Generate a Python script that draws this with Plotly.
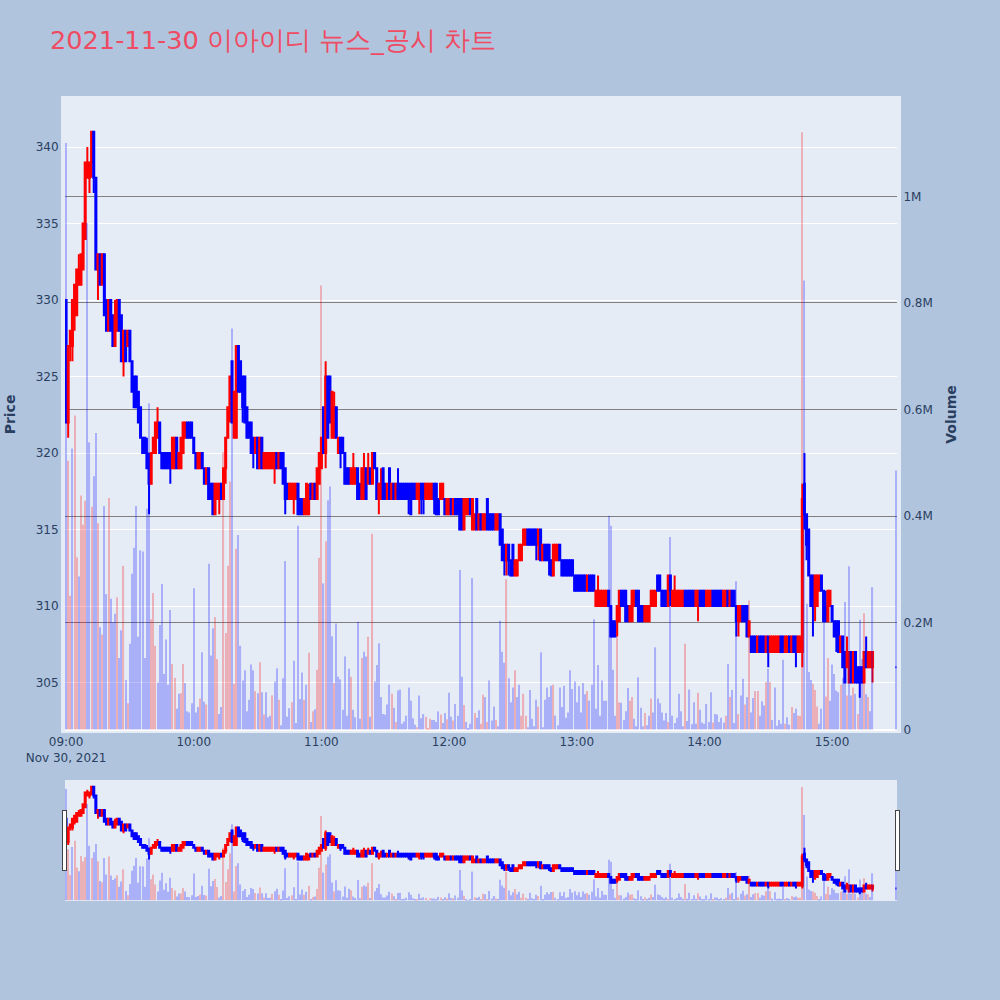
import pandas as pd
import plotly.graph_objects as go

opens = [
330,322,327,327,329,329,331,331,332,334, 338,338,339,341,338,332,333,331,333,330,
328,330,329,327,328,330,329,326,328,327, 328,326,325,325,324,323,321,321,320,319,
318,320,320,321,322,320,320,320,320,320, 319,319,321,319,319,320,321,322,322,322,
321,320,319,319,320,319,318,319,318,318, 316,317,317,318,317,319,321,323,326,321,
321,327,326,325,325,323,322,322,321,320, 321,319,321,319,319,319,319,319,319,320,
319,320,320,319,318,317,317,317,317,318, 317,317,316,316,316,318,317,318,317,318,
319,323,320,325,325,321,321,323,320,321, 321,320,319,319,318,318,318,319,318,317,
317,319,318,319,318,320,319,317,317,319, 318,317,319,317,318,317,318,318,318,318,
318,318,318,318,318,317,317,318,318,317, 317,317,317,318,318,317,317,317,317,316,
316,317,316,317,317,317,317,315,316,316, 317,315,315,317,315,316,315,315,317,316,
316,316,315,315,316,315,314,313,314,313, 314,312,312,313,313,314,314,315,315,315,
315,315,314,315,313,314,314,314,313,312, 313,313,314,313,313,313,313,313,313,312,
312,312,312,312,312,311,312,312,312,310, 310,310,310,310,310,311,310,309,309,309,
309,311,311,311,310,309,309,310,311,311, 310,310,309,309,309,310,310,310,312,312,
311,311,311,310,312,310,310,310,310,310, 310,311,311,311,311,311,310,310,311,311,
311,310,310,310,311,311,311,311,311,310, 310,311,310,311,311,310,309,309,310,310,
310,308,308,308,308,307,308,308,308,307, 308,307,307,307,307,307,308,308,307,307,
308,307,308,308,307,307,307,318,316,315, 312,312,310,310,311,312,311,310,309,310,
310,309,309,309,307,308,307,306,305,307, 305,307,306,306,306,305,307,306,306,306,
306]
highs = [
330,327,328,330,331,332,333,333,335,339, 340,339,341,341,338,333,333,333,333,330,
330,330,329,330,330,330,329,328,328,328, 328,326,325,325,324,323,321,321,321,320,
320,321,322,323,322,320,320,320,320,320, 321,321,321,320,321,322,322,322,322,322,
321,320,320,320,320,319,319,319,318,318, 318,318,318,318,319,321,323,325,326,324,
327,327,326,325,325,323,322,322,321,321, 321,321,321,320,320,320,320,320,320,320,
320,320,320,319,318,318,318,318,318,318, 317,317,317,318,318,318,318,318,319,320,
321,323,326,325,325,324,324,323,321,321, 321,320,319,319,319,320,319,319,318,319,
320,319,320,319,320,320,319,318,319,319, 318,318,319,318,318,318,319,318,318,318,
318,318,318,318,318,318,318,318,318,318, 318,318,318,318,318,317,318,318,317,317,
317,317,317,317,317,317,317,317,317,317, 317,317,316,317,316,316,316,316,317,316,
316,316,316,316,316,315,314,314,314,313, 314,313,313,314,314,315,315,315,315,315,
315,315,315,315,314,314,314,314,313,314, 314,314,314,313,313,313,313,313,313,312,
312,312,312,312,312,312,312,312,312,311, 312,311,311,311,311,311,310,309,309,310,
311,311,311,311,310,310,311,311,311,311, 310,310,310,310,310,311,311,311,312,312,
311,311,311,312,312,311,312,311,311,311, 311,311,311,311,311,311,311,311,311,311,
311,311,311,311,311,311,311,311,311,311, 311,311,311,311,311,310,310,310,310,310,
310,309,308,308,308,308,308,308,308,308, 308,308,308,308,308,308,308,308,308,308,
308,308,308,308,308,308,318,320,316,315, 312,312,312,312,312,312,311,311,311,311,
310,309,309,309,308,308,307,308,307,307, 307,307,306,306,306,307,308,307,307,307,
306]
lows = [
322,321,326,326,328,329,331,331,332,334, 338,337,338,337,332,330,331,331,329,328,
328,328,327,327,328,328,326,325,326,327, 326,324,323,323,322,321,320,320,319,316,
318,320,320,321,320,319,319,319,319,318, 319,319,319,319,319,320,321,321,321,321,
320,319,319,319,319,318,318,317,317,316, 316,317,316,317,317,318,321,322,322,321,
321,324,324,322,322,321,321,320,319,320, 319,319,319,319,319,319,319,319,318,319,
319,319,318,316,317,317,317,316,317,316, 316,316,316,316,316,317,317,317,317,318,
319,320,319,321,322,321,321,321,320,319, 320,318,318,318,318,318,318,317,317,317,
317,317,318,318,318,319,317,316,317,317, 317,317,317,317,317,317,317,317,317,317,
317,316,316,317,317,317,316,316,316,317, 317,317,317,316,316,316,317,317,316,316,
316,316,316,316,316,315,315,315,316,316, 316,315,315,315,315,315,315,315,315,315,
315,315,315,315,314,313,312,312,312,312, 312,312,312,313,313,314,314,314,314,314,
314,313,313,313,313,313,313,312,312,312, 313,313,313,312,312,312,312,312,312,311,
311,311,311,311,311,311,311,311,311,310, 310,310,310,310,310,310,308,308,308,308,
309,310,310,309,309,309,309,310,310,309, 309,309,309,309,309,310,310,310,311,311,
310,310,310,310,310,310,310,310,310,310, 310,310,310,310,310,310,310,309,310,310,
310,310,310,310,310,310,310,310,310,310, 310,310,310,310,310,308,308,309,309,309,
308,308,307,307,307,307,307,307,307,307, 306,307,307,307,307,307,307,307,307,307,
307,307,307,306,307,307,306,315,313,312, 310,308,309,310,311,311,309,309,309,310,
309,308,307,307,307,306,305,306,305,305, 305,305,305,304,305,305,306,306,306,305,
306]
closes = [
322,327,328,330,331,332,332,333,335,339, 339,339,341,338,332,333,331,333,329,328,
330,328,327,329,330,328,326,328,326,328, 326,324,323,323,322,321,320,320,319,318,
320,321,322,322,320,319,319,319,319,319, 321,321,319,320,321,322,322,321,321,321,
320,319,320,320,319,318,319,317,317,316, 318,318,318,317,319,321,323,325,322,324,
327,324,324,323,322,321,321,320,320,321, 319,321,319,320,320,320,320,320,320,319,
320,319,318,317,317,318,318,318,318,316, 316,316,317,318,317,317,318,317,319,320,
321,320,325,321,322,324,323,321,321,320, 320,318,318,318,319,319,319,317,317,319,
319,317,319,318,320,319,317,318,318,317, 317,318,317,318,317,318,317,317,317,317,
317,317,316,317,317,318,318,317,317,318, 318,318,318,317,316,316,318,318,316,317,
317,316,317,316,316,315,315,317,317,317, 316,317,316,315,316,315,316,316,315,315,
315,315,316,316,314,313,313,314,313,312, 312,313,313,314,314,315,315,314,314,314,
314,314,315,313,314,313,313,313,312,314, 314,314,313,312,312,312,312,312,312,311,
311,311,311,311,311,312,311,311,311,311, 311,311,311,311,311,310,308,308,308,310,
311,310,310,309,309,310,311,311,310,309, 309,309,310,310,310,311,311,311,311,311,
310,310,310,312,311,311,311,311,311,311, 311,310,310,310,310,310,311,311,310,310,
310,311,311,311,310,310,310,310,310,311, 311,310,311,310,310,309,310,310,309,309,
308,309,307,307,307,308,307,307,307,308, 307,308,308,308,308,308,307,307,308,308,
307,308,307,307,308,308,317,316,314,312, 310,310,312,312,312,311,309,309,311,311,
309,308,308,307,308,306,305,307,307,305, 307,305,305,305,305,307,306,307,307,307,
306]
volumes_k = [
1100,504,251,527,589,323,287,439,384,429, 950,539,418,475,556,387,192,178,419,254,
434,245,201,217,248,134,186,307,93,49, 161,292,341,419,174,336,334,134,414,612,
207,256,157,88,196,273,104,169,84,224, 123,97,39,67,68,123,87,34,32,49,
265,32,42,58,145,52,47,311,139,190, 211,132,29,42,520,181,307,465,752,86,
339,365,157,92,111,34,56,122,111,72, 68,126,70,28,70,23,26,64,90,115,
56,8,96,316,24,40,51,129,12,382, 57,107,56,84,144,14,34,38,112,322,
833,274,353,430,456,175,87,199,99,94, 37,137,26,114,99,37,23,202,20,134,
146,137,174,24,367,90,121,162,61,29, 28,47,84,67,41,14,73,75,11,15,
26,79,54,21,9,4,64,21,29,24, 3,20,18,18,14,34,28,12,31,19,
69,24,17,48,26,299,99,46,14,3, 11,284,31,22,36,11,65,61,14,92,
17,43,18,6,204,146,125,282,96,51, 79,111,61,84,26,67,26,4,74,20,
6,56,43,145,4,56,79,61,82,84, 26,8,79,42,82,22,32,111,76,90,
51,81,32,87,66,72,54,84,207,39, 121,26,92,54,54,401,382,112,26,173,
51,50,18,34,78,54,61,20,6,98, 41,6,31,8,26,58,32,154,58,49,
32,17,31,14,361,26,12,22,67,34, 6,161,16,75,10,51,11,69,37,13,
11,48,14,70,13,29,28,14,22,13, 26,123,61,74,12,278,29,64,95,47,
61,242,32,59,72,72,26,53,45,89, 114,89,18,79,7,18,11,131,11,23,
9,42,31,39,26,26,1120,842,236,108, 93,86,74,43,11,39,201,62,134,54,
122,104,73,70,84,97,239,64,306,64, 79,67,29,206,132,218,66,61,34,267,
486]
volume_sides = (
"brrbrrbrrr" "bbrbbrbrbb" "rbbbrbbrbr" "bbbbbbbbbb" "rrrbbbbbbb" "rrbbrrbbbb"
"bbbrbbrbbb" "rrbbrrrrbr" "rbbbbbbbbr" "brbrbbbrbb" "rbbbbbrbbb" "bbrbrbrbrr"
"rbrbbbrbbb" "bbbbrbbbbr" "bbrbrbbbbb" "bbbrbrbbbb" "bbbbbrbbbr" "rrbbbbrbbr"
"bbrbbbbrbb" "bbrbbrrbrb" "bbrbbbbrbb" "brbbrrrbbb" "bbrbbbbbbr" "bbbbbbbbbb"
"bbbbbrbbbb" "bbbbbbbbbr" "rbbbbrrbbb" "bbrbbrbbbb" "bbbrbbbbbb" "brbbbbbrbb"
"bbbbrbbbbb" "rbrbbbrbbr" "brbbrrbbbr" "brbbbbbbrb" "brbbrrrbbb" "brrrbbbrrb"
"bbbbrbbrbb" "rbrbbrbrbb" "b"
)
minutes_after_open = list(range(380)) + [390]

TITLE = "2021-11-30 이아이디 뉴스_공시 차트"
PLOT_BG = "#E5ECF6"

times = [pd.Timestamp("2021-11-30 09:00") + pd.Timedelta(minutes=m) for m in minutes_after_open]
volumes = [v * 1000 for v in volumes_k]
vol_colors = ["red" if s == "r" else "blue" for s in volume_sides]

fig = go.Figure()
fig.add_trace(go.Candlestick(
    x=times, open=opens, high=highs, low=lows, close=closes, yaxis="y",
    increasing=dict(line=dict(color="red"), fillcolor="red"),
    decreasing=dict(line=dict(color="blue"), fillcolor="blue"),
    showlegend=False,
))
fig.add_trace(go.Bar(
    x=times, y=volumes, yaxis="y2", width=32000,
    marker=dict(color=vol_colors, line=dict(width=0)),
    opacity=0.25, showlegend=False,
))
fig.update_layout(
    width=1000, height=1000,
    paper_bgcolor="#B0C4DE", plot_bgcolor=PLOT_BG,
    font=dict(family="DejaVu Sans, Verdana, sans-serif", size=12, color="#2a3f5f"),
    title=dict(text=TITLE, x=0.05, xanchor="left", y=0.96, yanchor="middle",
               font=dict(size=25.6, color="#EF4B63")),
    margin=dict(l=65, r=103, t=96, b=100),
    showlegend=False,
    xaxis=dict(type="date", showgrid=False,
               rangeslider=dict(visible=True, bgcolor=PLOT_BG)),
    yaxis=dict(title=dict(text="<b>Price</b>", standoff=18), automargin=False,
               range=[301.7, 343.34], dtick=5,
               gridcolor="white", gridwidth=1, zeroline=False,
               showline=True, linewidth=4, linecolor=PLOT_BG),
    yaxis2=dict(title=dict(text="<b>Volume</b>"), automargin=False,
                overlaying="y", side="right",
                range=[-6570, 1188200], gridcolor="gray", gridwidth=1,
                zeroline=True, zerolinecolor="white", zerolinewidth=2,
                dtick=200000, showline=True, linewidth=4, linecolor=PLOT_BG),
)
fig.write_html("out.html", post_script="document.body.style.margin='0';",
               config={"displayModeBar": False})
